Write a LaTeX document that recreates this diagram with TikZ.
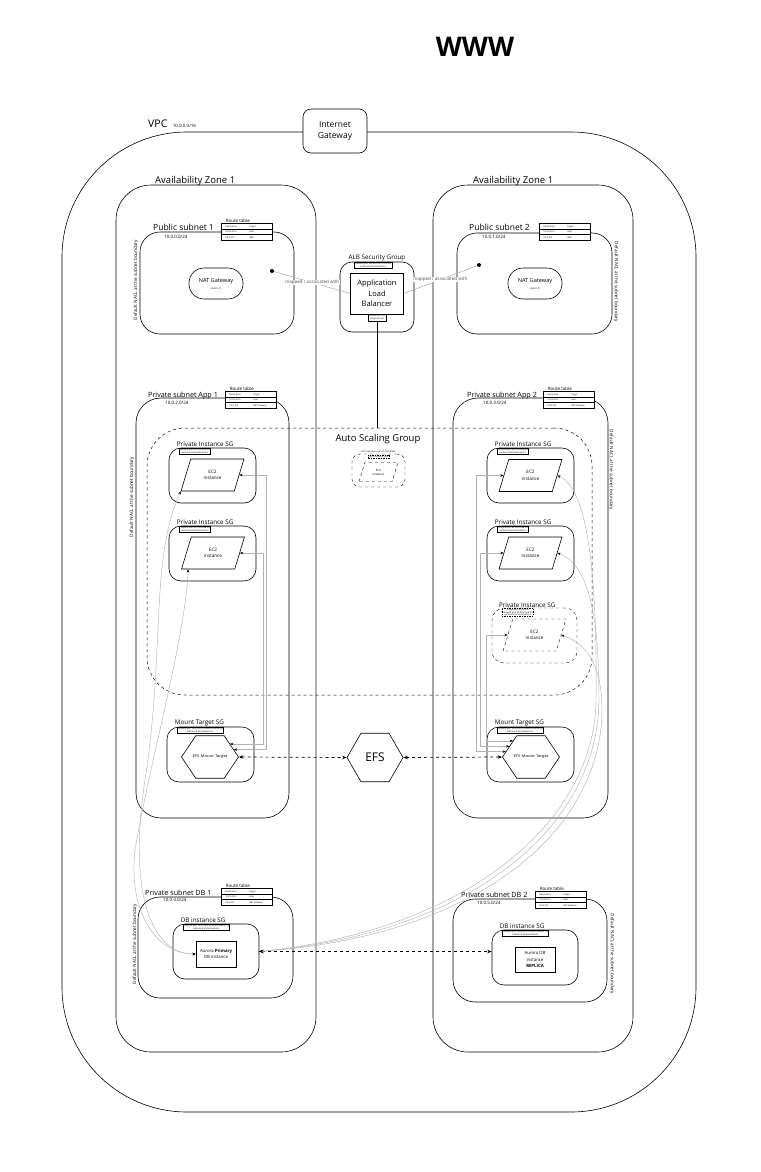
\documentclass[tikz,border=0pt]{standalone}
\usepackage{fontspec}
\setmainfont{Open Sans}
\usetikzlibrary{shapes.geometric, arrows.meta, positioning, calc}

\newcommand{\routetab}[1]{%
  \renewcommand{\arraystretch}{2}%
  \begin{tabular}{@{\hspace{4pt}}p{24pt}@{}p{23pt}@{}}
    Destination & Target\\ \hline
    10.0.0.0/16 & local\\ \hline
    0.0.0.0/0 & #1
  \end{tabular}}

\tikzset{
  zone/.style={draw, line width=0.6pt, rounded corners=#1},
  azlabel/.style={font=\fontsize{9.5}{11}\selectfont, anchor=base west, inner sep=0pt},
  subnetlabel/.style={font=\fontsize{8.5}{10}\selectfont, anchor=base west, inner sep=0pt},
  privlabel/.style={font=\fontsize{7.2}{9}\selectfont, anchor=base west, inner sep=0pt},
  cidr/.style={font=\fontsize{4.5}{5}\selectfont, anchor=base west, inner sep=0pt},
  nacl/.style={font=\fontsize{4.6}{5.5}\selectfont, inner sep=0pt},
  rtbox/.style={draw, fill=white, line width=0.5pt, anchor=north west, inner sep=0pt, font=\fontsize{2.2}{2.7}\selectfont},
  rttitle/.style={font=\fontsize{4.5}{5}\selectfont, anchor=south west, inner sep=0.6pt, xshift=4pt},
  sgbox/.style={draw, line width=0.6pt, rounded corners=12pt, minimum width=87pt, minimum height=55pt, inner sep=0pt},
  sglabel/.style={font=\fontsize{6.3}{7}\selectfont, inner sep=0pt},
  rulebox/.style={draw, fill=white, line width=0.5pt, font=\fontsize{2.2}{2.7}\selectfont, align=center, inner sep=0.7pt},
  dashrule/.style={rulebox, dashed, line width=0.3pt, dash pattern=on 1.5pt off 1pt},
  ec2/.style={draw, fill=white, line width=0.6pt, trapezium, trapezium left angle=68, trapezium right angle=112, trapezium stretches=true, minimum width=63pt, minimum height=32pt, inner sep=0pt, align=center, font=\fontsize{4.6}{6.5}\selectfont},
  hexa/.style={draw, fill=white, line width=0.6pt, regular polygon, regular polygon sides=6, inner sep=0pt},
  mounttgt/.style={hexa, minimum size=46pt, yscale=0.86, font=\fontsize{4.3}{5}\selectfont},
  natgw/.style={draw, line width=0.6pt, rounded corners=15pt, minimum width=54pt, minimum height=31pt, align=center, font=\fontsize{5.6}{7}\selectfont, inner sep=0pt},
  eipdot/.style={circle, fill, inner sep=0pt, minimum size=4pt},
  assoc/.style={draw=black!35, line width=0.5pt},
  assoclabel/.style={fill=white, inner sep=0.5pt, font=\fontsize{4.5}{5}\selectfont, text=black!70},
  dbbox/.style={draw, line width=0.6pt, minimum width=40pt, minimum height=26pt, align=center, font=\fontsize{4.3}{6.5}\selectfont, inner sep=0pt},
  link/.style={draw=black!30, line width=0.45pt, {Stealth[black, length=3.2pt, width=2.6pt]}-{Stealth[black, length=3.2pt, width=2.6pt]}},
  dasharrow/.style={dashed, line width=0.7pt, {Stealth[length=4.5pt, width=3.5pt]}-{Stealth[length=4.5pt, width=3.5pt]}},
}

\begin{document}
\begin{tikzpicture}[x=1pt, y=-1pt]
  \useasboundingbox (0,0) rectangle (760,1172);

  % Internet
  \node[font=\fontsize{27}{30}\selectfont\bfseries] (www) at (475,47) {WWW};

  % VPC
  \draw[zone=125pt] (62,132) rectangle (696,1112);
  \node[font=\fontsize{10.5}{12}\selectfont, anchor=base west, inner sep=0pt] (vpc) at (148,127.5) {VPC};
  \node[cidr] at ([xshift=5pt]vpc.base east) {10.0.0.0/16};
  \node[draw, fill=white, line width=0.6pt, rounded corners=8pt, minimum width=64pt, minimum height=44pt, align=center, font=\fontsize{8.5}{11.5}\selectfont] (igw) at (335,131) {Internet\\Gateway};

  % Availability zones
  \draw[zone=35pt] (116,185) rectangle (316,1052);
  \draw[zone=35pt] (433,185) rectangle (633,1052);
  \draw[black!30, line width=1.3pt] (316,220) -- (316,1017);
  \node[azlabel] at (155,183) {Availability Zone 1};
  \node[azlabel] at (473,183) {Availability Zone 1};

  % Public subnet 1
  \draw[zone=20pt] (140,232) rectangle (294,334);
  \node[subnetlabel] at (153,230) {Public subnet 1};
  \node[cidr] at (164,238) {10.0.0.0/24};
  \node[rtbox] (rtpub1) at (221,223) {\routetab{IGW}};
  \node[rttitle] at (rtpub1.north west) {Route table};
  \node[nacl, rotate=90] at (136,280) {Default NACL at the subnet boundary};
  \node[natgw] (nat1) at (216,283.5) {NAT Gateway\\{\fontsize{2.4}{3}\selectfont elastic IP}};
  \node[eipdot] (eip1) at (272,271) {};

  % Public subnet 2
  \draw[zone=20pt] (457,233) rectangle (612,334);
  \node[subnetlabel] at (469,230) {Public subnet 2};
  \node[cidr] at (482,238) {10.0.1.0/24};
  \node[rtbox] (rtpub2) at (539,223) {\routetab{IGW}};
  \node[nacl, rotate=-90] at (616,282) {Default NACL at the subnet boundary};
  \node[natgw] (nat2) at (535,283.5) {NAT Gateway\\{\fontsize{2.4}{3}\selectfont elastic IP}};
  \node[eipdot] (eip2) at (479,265) {};

  % Application Load Balancer
  \node[sgbox, minimum width=74pt, minimum height=70pt] (albsg) at (377,297) {};
  \node[sglabel, anchor=south] at ([yshift=0.5pt]albsg.north) {ALB Security Group};
  \node[rulebox, anchor=north] at ([xshift=-4pt]albsg.north) {inbound port 80/443 from 0.0.0.0/0\\outbound all destinations};
  \node[draw, line width=0.6pt, fill=white, minimum width=53pt, minimum height=41pt, align=center, font=\fontsize{7.5}{10.5}\selectfont] (alb) at (377,293.5) {Application\\Load\\Balancer};
  \node[rulebox, anchor=north] (lstn) at (alb.south) {Listener HTTP/S\\Target Group};
  \draw[assoc] (eip1) -- node[assoclabel] {mapped / associated with} (alb.west);
  \draw[assoc] (alb.east) -- node[assoclabel] {mapped / associated with} (eip2);

  % Private subnet App 1
  \draw[zone=25pt] (136,398) rectangle (289,818);
  \node[privlabel] at (148,397) {Private subnet App 1};
  \node[cidr] at (165,404) {10.0.2.0/24};
  \node[rtbox] (rtapp1) at (225,391) {\routetab{NAT Gateway}};
  \node[rttitle] at (rtapp1.north west) {Route table};
  \node[nacl, rotate=90] at (132,497) {Default NACL at the subnet boundary};

  % Private subnet App 2
  \draw[zone=25pt] (453,398) rectangle (608,818);
  \node[privlabel] at (467,397) {Private subnet App 2};
  \node[cidr] at (483,404) {10.0.3.0/24};
  \node[rtbox] (rtapp2) at (543,391) {\routetab{NAT Gateway}};
  \node[rttitle] at (rtapp2.north west) {Route table};
  \node[nacl, rotate=-90] at (611,470) {Default NACL at the subnet boundary};

  % Auto Scaling Group
  \node[draw, dashed, line width=0.5pt, rounded corners=38pt, minimum width=445pt, minimum height=267pt] (asg) at (369.5,561.5) {};
  \node[font=\fontsize{9.5}{11}\selectfont] at (378,439) {Auto Scaling Group};
  \draw[line width=0.6pt] (lstn.south) -- (lstn.south |- asg.north);
  \node[draw, dashed, line width=0.4pt, rounded corners=8pt, minimum width=53pt, minimum height=33pt] (lt) at (378.5,470.5) {};
  \node[font=\fontsize{2.4}{3}\selectfont, inner sep=0.5pt, anchor=south] at (lt.north) {EC2 Instance Launch Template};
  \node[dashrule, anchor=north] at ([yshift=-1pt]lt.north) {AMI / instance type};
  \node[ec2, dashed, line width=0.4pt, minimum width=39pt, minimum height=19pt, font=\fontsize{3}{4}\selectfont] (ec2lt) at (378.5,472) {EC2\\instance};

  % Private instances, App 1
  \node[sgbox] (sgL1) at (212.5,475.5) {};
  \node[sglabel, above right=0.5pt and 8pt of sgL1.north west] {Private Instance SG};
  \node[rulebox, below right=0pt and 10pt of sgL1.north west] {inbound port 80 from ALB SG\\outbound all destinations};
  \node[ec2] (ec2L1) at (212.5,475) {EC2\\instance};

  \node[sgbox] (sgL2) at (212.5,553.5) {};
  \node[sglabel, above right=0.5pt and 8pt of sgL2.north west] {Private Instance SG};
  \node[rulebox, below right=0pt and 10pt of sgL2.north west] {inbound port 80 from ALB SG\\outbound all destinations};
  \node[ec2] (ec2L2) at (213,553) {EC2\\instance};

  % Private instances, App 2
  \node[sgbox] (sgR1) at (530.5,475.5) {};
  \node[sglabel, above right=0.5pt and 8pt of sgR1.north west] {Private Instance SG};
  \node[rulebox, below right=0pt and 10pt of sgR1.north west] {inbound port 80 from ALB SG\\outbound all destinations};
  \node[ec2] (ec2R1) at (530.5,475.5) {EC2\\instance};

  \node[sgbox] (sgR2) at (530.5,553.5) {};
  \node[sglabel, above right=0.5pt and 8pt of sgR2.north west] {Private Instance SG};
  \node[rulebox, below right=0pt and 10pt of sgR2.north west] {inbound port 80 from ALB SG\\outbound all destinations};
  \node[ec2] (ec2R2) at (530.5,553) {EC2\\instance};

  \node[sgbox, dashed, line width=0.4pt, minimum width=85pt] (sgR3) at (534.5,635.5) {};
  \node[sglabel, above right=0.5pt and 7pt of sgR3.north west] {Private Instance SG};
  \node[dashrule, below right=0pt and 10pt of sgR3.north west] {scaled out by the ASG\\inbound port 80 from ALB SG\\outbound all destinations};
  \node[ec2, dashed, line width=0.4pt] (ec2R3) at (534.5,635) {EC2\\instance};

  % EFS
  \node[sgbox] (mtsgL) at (210.5,754.5) {};
  \node[sglabel, above right=0.5pt and 8pt of mtsgL.north west] {Mount Target SG};
  \node[rulebox, below right=0pt and 10pt of mtsgL.north west] {inbound port 2049 from Private Instance SG\\outbound all destinations};
  \node[mounttgt] (mtL) at (210,757) {EFS Mount Target};

  \node[sgbox] (mtsgR) at (530.5,754.5) {};
  \node[sglabel, above right=0.5pt and 8pt of mtsgR.north west] {Mount Target SG};
  \node[rulebox, below right=0pt and 10pt of mtsgR.north west] {inbound port 2049 from Private Instance SG\\outbound all destinations};
  \node[mounttgt] (mtR) at (531,757) {EFS Mount Target};

  \node[hexa, minimum size=56pt, font=\fontsize{12}{14}\selectfont] (efs) at (375,757.5) {EFS};
  \draw[dasharrow] (mtL.east) -- (efs.west);
  \draw[dasharrow] (efs.east) -- (mtR.west);

  % Private subnet DB 1
  \draw[zone=22pt] (138,897) rectangle (293,998);
  \node[privlabel] at (145,895) {Private subnet DB 1};
  \node[cidr] at (163,901) {10.0.4.0/24};
  \node[rtbox] (rtdb1) at (221,888) {\routetab{NAT Gateway}};
  \node[rttitle] at (rtdb1.north west) {Route table};
  \node[nacl, rotate=90] at (135,944) {Default NACL at the subnet boundary};
  \node[sgbox, minimum width=86pt] (dbsg1) at (216,951.5) {};
  \node[sglabel, above right=0.5pt and 8pt of dbsg1.north west] {DB instance SG};
  \node[rulebox, below right=0pt and 10pt of dbsg1.north west] {inbound port 3306 from Private Instance SG\\outbound all destinations};
  \node[dbbox] (dbprim) at (216,954) {Aurora \textbf{Primary}\\DB instance};

  % Private subnet DB 2
  \draw[zone=22pt] (453,899) rectangle (607,1002);
  \node[privlabel] at (461,897) {Private subnet DB 2};
  \node[cidr] at (477,904.5) {10.0.5.0/24};
  \node[rtbox] (rtdb2) at (535,891) {\routetab{NAT Gateway}};
  \node[rttitle] at (rtdb2.north west) {Route table};
  \node[nacl, rotate=-90] at (612,954) {Default NACL at the subnet boundary};
  \node[sgbox, minimum width=86pt] (dbsg2) at (535,957.5) {};
  \node[sglabel, above right=0.5pt and 8pt of dbsg2.north west] {DB instance SG};
  \node[rulebox, below right=0pt and 10pt of dbsg2.north west] {inbound port 3306 from Private Instance SG\\outbound all destinations};
  \node[dbbox, minimum height=25pt, font=\fontsize{4.3}{6.3}\selectfont] (dbrepl) at (535,959.5) {Aurora DB\\instance\\\textbf{REPLICA}};
  \draw[dasharrow] (dbsg1.east) -- (dbsg1.east -| dbsg2.west);

  % Connections to EFS mount targets
  \draw[link] (ec2L1.east) -- ++(27,0) |- (mtL.20);
  \draw[link] (ec2L2.east) -- ++(23,0) |- (mtL.37);
  \draw[link] (ec2R1.west) -- ++(-27,0) |- (mtR.166);
  \draw[link] (ec2R2.west) -- ++(-23,0) |- (mtR.150);
  \draw[link] (ec2R3.west) -- ++(-21,0) |- (mtR.134);

  % Connections to the primary DB
  \draw[link] (ec2L1.bottom left corner) .. controls (150,560) and (165,650) .. (145,780) .. controls (128,890) and (150,954) .. (dbprim.west);
  \draw[link] ([xshift=7pt]ec2L2.bottom left corner) .. controls (185,640) and (150,760) .. (135,850) .. controls (128,910) and (155,954) .. (dbprim.west);
  \draw[link] (ec2R1.east) .. controls (592,490) and (597,600) .. (596,700) .. controls (595,820) and (470,930) .. (dbsg1.east);
  \draw[link] (ec2R2.east) .. controls (590,565) and (599,620) .. (599,700) .. controls (598,825) and (475,933) .. (dbsg1.east);
  \draw[link] (ec2R3.east) .. controls (590,645) and (602,670) .. (602,710) .. controls (601,830) and (480,936) .. (dbsg1.east);
\end{tikzpicture}
\end{document}
